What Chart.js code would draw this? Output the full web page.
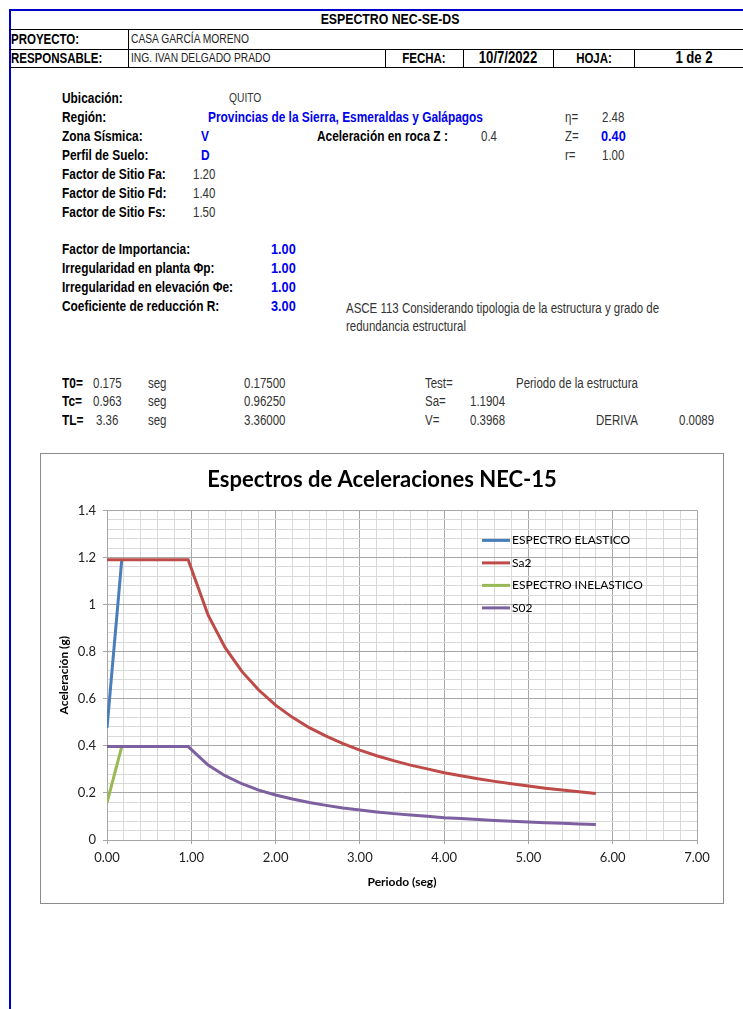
<!DOCTYPE html>
<html>
<head>
<meta charset="utf-8">
<script src="https://cdn.jsdelivr.net/npm/chart.js@4.4.1/dist/chart.umd.min.js"></script>
<style>
  html, body { margin: 0; padding: 0; background: #fff; }
  #page { position: relative; width: 743px; height: 1009px; overflow: hidden; }
  .ln { position: absolute; background: #000; }
  .blue { background: #0000cc; }
  /* Arial Narrow look: Liberation Sans squeezed horizontally */
  .t { position: absolute; white-space: nowrap; line-height: 16px; height: 16px;
       font-family: "Liberation Sans", Arial, sans-serif; font-size: 14px; color: #333;
       transform: scaleX(0.82); transform-origin: 0 50%; }
  .b { font-weight: bold; font-size: 14.5px; color: #000; }
  .h { font-size: 14px; }
  .v { color: #0000ee; font-weight: bold; font-size: 14.5px; }
  .big { font-size: 15.5px; }
  .c { transform: translateX(-50%) scaleX(0.82); transform-origin: 50% 50%; }
  #chartBox { position: absolute; left: 40px; top: 453px; width: 684px; height: 451px;
              border: 1px solid #8c8c8c; box-sizing: border-box; background: #fff; }
  #chartBox canvas { position: absolute; left: 0; top: 0; }
</style>
</head>
<body>
<div id="page">
  <!-- header grid -->
  <div class="ln blue" style="left:9px;top:9px;width:734px;height:2px"></div>
  <div class="ln blue" style="left:9px;top:9px;width:2px;height:1000px"></div>
  <div class="ln" style="left:9px;top:29px;width:734px;height:1px"></div>
  <div class="ln" style="left:9px;top:49px;width:734px;height:1px"></div>
  <div class="ln" style="left:9px;top:67px;width:734px;height:1px"></div>
  <div class="ln" style="left:128px;top:29px;width:1px;height:38px"></div>
  <div class="ln" style="left:385px;top:49px;width:1px;height:18px"></div>
  <div class="ln" style="left:463px;top:49px;width:1px;height:18px"></div>
  <div class="ln" style="left:553px;top:49px;width:1px;height:18px"></div>
  <div class="ln" style="left:634px;top:49px;width:1px;height:18px"></div>

  <div class="t b c" style="left:390px;top:11px;font-size:15px">ESPECTRO NEC-SE-DS</div>
  <div class="t b h" style="left:11px;top:31px">PROYECTO:</div>
  <div class="t" style="left:131px;top:31px;color:#222;font-size:12.5px">CASA GARCÍA MORENO</div>
  <div class="t b h" style="left:11px;top:50px">RESPONSABLE:</div>
  <div class="t" style="left:131px;top:50px;color:#222;font-size:12.5px">ING. IVAN DELGADO PRADO</div>
  <div class="t b h c" style="left:424px;top:50px">FECHA:</div>
  <div class="t b c" style="left:508px;top:50px;font-size:16px">10/7/2022</div>
  <div class="t b h c" style="left:594px;top:50px">HOJA:</div>
  <div class="t b c" style="left:694px;top:50px;font-size:16px">1 de 2</div>

  <!-- site data -->
  <div class="t b" style="left:62px;top:90px">Ubicación:</div>
  <div class="t" style="left:229px;top:90px;font-size:12.5px">QUITO</div>
  <div class="t b" style="left:62px;top:109px">Región:</div>
  <div class="t v" style="left:208px;top:109px">Provincias de la Sierra, Esmeraldas y Galápagos</div>
  <div class="t" style="left:565px;top:109px">η=</div>
  <div class="t" style="left:602px;top:109px">2.48</div>
  <div class="t b" style="left:62px;top:128px">Zona Sísmica:</div>
  <div class="t v" style="left:201px;top:128px">V</div>
  <div class="t b" style="left:317px;top:128px">Aceleración en roca Z :</div>
  <div class="t" style="left:481px;top:128px">0.4</div>
  <div class="t" style="left:565px;top:128px">Z=</div>
  <div class="t v big" style="left:601px;top:128px">0.40</div>
  <div class="t b" style="left:62px;top:147px">Perfil de Suelo:</div>
  <div class="t v" style="left:201px;top:147px">D</div>
  <div class="t" style="left:565px;top:147px">r=</div>
  <div class="t" style="left:602px;top:147px">1.00</div>
  <div class="t b" style="left:62px;top:166px">Factor de Sitio Fa:</div>
  <div class="t" style="left:193px;top:166px">1.20</div>
  <div class="t b" style="left:62px;top:185px">Factor de Sitio Fd:</div>
  <div class="t" style="left:193px;top:185px">1.40</div>
  <div class="t b" style="left:62px;top:204px">Factor de Sitio Fs:</div>
  <div class="t" style="left:193px;top:204px">1.50</div>

  <div class="t b" style="left:62px;top:241px">Factor de Importancia:</div>
  <div class="t v big" style="left:271px;top:241px">1.00</div>
  <div class="t b" style="left:62px;top:260px">Irregularidad en planta Φp:</div>
  <div class="t v big" style="left:271px;top:260px">1.00</div>
  <div class="t b" style="left:62px;top:279px">Irregularidad en elevación Φe:</div>
  <div class="t v big" style="left:271px;top:279px">1.00</div>
  <div class="t b" style="left:62px;top:298px">Coeficiente de reducción R:</div>
  <div class="t v big" style="left:271px;top:298px">3.00</div>
  <div class="t" style="left:346px;top:300px">ASCE 113 Considerando tipologia de la estructura y grado de</div>
  <div class="t" style="left:346px;top:318px">redundancia estructural</div>

  <!-- periods -->
  <div class="t b" style="left:62px;top:375px">T0=</div>
  <div class="t" style="left:93px;top:375px">0.175</div>
  <div class="t" style="left:148px;top:375px">seg</div>
  <div class="t" style="left:244px;top:375px">0.17500</div>
  <div class="t" style="left:425px;top:375px">Test=</div>
  <div class="t" style="left:516px;top:375px">Periodo de la estructura</div>
  <div class="t b" style="left:62px;top:393px">Tc=</div>
  <div class="t" style="left:93px;top:393px">0.963</div>
  <div class="t" style="left:148px;top:393px">seg</div>
  <div class="t" style="left:244px;top:393px">0.96250</div>
  <div class="t" style="left:425px;top:393px">Sa=</div>
  <div class="t" style="left:470px;top:393px">1.1904</div>
  <div class="t b" style="left:62px;top:412px">TL=</div>
  <div class="t" style="left:96px;top:412px">3.36</div>
  <div class="t" style="left:148px;top:412px">seg</div>
  <div class="t" style="left:244px;top:412px">3.36000</div>
  <div class="t" style="left:425px;top:412px">V=</div>
  <div class="t" style="left:470px;top:412px">0.3968</div>
  <div class="t" style="left:596px;top:412px">DERIVA</div>
  <div class="t" style="left:679px;top:412px">0.0089</div>

  <div id="chartBox"><canvas id="espectro" width="682" height="449"></canvas></div>
</div>

<script>
// Periodo (seg) and aceleración (g)
const elasticT = [0, 0.175];
const elasticSa = [0.476, 1.190];

const sa2T = [0, 0.9625, 1.2, 1.4, 1.6, 1.8, 2.0, 2.2, 2.4, 2.6, 2.8, 3.0, 3.2, 3.4, 3.6, 3.8,
              4.0, 4.2, 4.4, 4.6, 4.8, 5.0, 5.2, 5.4, 5.6, 5.8];
const sa2 = [1.190, 1.190, 0.955, 0.818, 0.716, 0.637, 0.573, 0.521, 0.477, 0.441, 0.409, 0.382,
             0.358, 0.337, 0.318, 0.302, 0.286, 0.273, 0.260, 0.249, 0.239, 0.229, 0.220, 0.212,
             0.205, 0.198];

const inelasticT = [0, 0.175];
const inelasticSa = [0.159, 0.397];

const s02T = sa2T;
const s02 = [0.397, 0.397, 0.318, 0.273, 0.239, 0.212, 0.191, 0.174, 0.159, 0.147, 0.136, 0.127,
             0.119, 0.112, 0.106, 0.101, 0.095, 0.091, 0.087, 0.083, 0.080, 0.076, 0.073, 0.071,
             0.068, 0.066];

const seriesNames = ['ESPECTRO ELASTICO', 'Sa2', 'ESPECTRO INELASTICO', 'S02'];
const seriesColors = ['#4a7ebb', '#be4b48', '#98b954', '#7d60a0'];

const xTicksMajor = [0, 1, 2, 3, 4, 5, 6, 7];
const yTicksMajor = [0, 0.2, 0.4, 0.6, 0.8, 1, 1.2, 1.4];

const FONT = 'Lato, "Open Sans", sans-serif';

function pts(xs, ys) {
  return xs.map((x, i) => ({ x: x, y: ys[i] }));
}

function isMajor(v, list) {
  return list.some(m => Math.abs(v - m) < 1e-6);
}

const gridMinor = '#d9d9d9';
const gridMajor = '#a6a6a6';

// legend drawn inside the plot, like the spreadsheet one
const insideLegend = {
  id: 'insideLegend',
  afterDatasetsDraw(chart) {
    const c = chart.ctx;
    const a = chart.chartArea;
    const x0 = a.left + 375;
    let y = a.top + 30;
    c.save();
    c.font = '12px ' + FONT;
    c.textBaseline = 'middle';
    c.fillStyle = '#000';
    chart.data.datasets.forEach(ds => {
      c.strokeStyle = ds.borderColor;
      c.lineWidth = 3;
      c.beginPath();
      c.moveTo(x0, y);
      c.lineTo(x0 + 28, y);
      c.stroke();
      c.fillText(ds.label, x0 + 30, y);
      y += 22.5;
    });
    c.restore();
  }
};

const datasets = [
  pts(elasticT, elasticSa),
  pts(sa2T, sa2),
  pts(inelasticT, inelasticSa),
  pts(s02T, s02)
].map((d, i) => ({
  label: seriesNames[i],
  data: d,
  borderColor: seriesColors[i],
  backgroundColor: seriesColors[i],
  borderWidth: 3,
  pointRadius: 0,
  tension: 0,
  fill: false,
  order: 4 - i
}));

new Chart(document.getElementById('espectro'), {
  type: 'line',
  data: { datasets: datasets },
  plugins: [insideLegend],
  options: {
    responsive: false,
    animation: false,
    layout: { padding: 0 },
    plugins: {
      legend: { display: false },
      tooltip: { enabled: false },
      title: {
        display: true,
        text: 'Espectros de Aceleraciones NEC-15',
        color: '#000',
        font: { family: FONT, size: 22, weight: 'bold' },
        padding: { top: 13, bottom: 17 }
      }
    },
    scales: {
      x: {
        type: 'linear',
        min: 0,
        max: 7,
        afterFit(scale) { scale.height = 63; },
        ticks: {
          stepSize: 0.2,
          autoSkip: false,
          maxRotation: 0,
          padding: 6,
          color: '#222',
          font: { family: FONT, size: 13 },
          callback: v => isMajor(v, xTicksMajor) ? v.toFixed(2) : ''
        },
        grid: {
          color: ctx => isMajor(ctx.tick.value, xTicksMajor) ? gridMajor : gridMinor,
          tickColor: ctx => isMajor(ctx.tick.value, xTicksMajor) ? gridMajor : 'rgba(0,0,0,0)',
          tickLength: 4
        },
        border: { color: gridMajor },
        title: {
          display: true,
          text: 'Periodo (seg)',
          color: '#000',
          font: { family: FONT, size: 12, weight: 'bold' },
          padding: { top: 0, bottom: 14 }
        }
      },
      y: {
        min: 0,
        max: 1.4,
        afterFit(scale) { scale.width = 66; },
        ticks: {
          stepSize: 0.04,
          maxTicksLimit: 100,
          autoSkip: false,
          padding: 7,
          color: '#222',
          font: { family: FONT, size: 13 },
          callback: v => isMajor(v, yTicksMajor) ? String(Number(v.toFixed(1))) : ''
        },
        grid: {
          color: ctx => isMajor(ctx.tick.value, yTicksMajor) ? gridMajor : gridMinor,
          tickColor: ctx => isMajor(ctx.tick.value, yTicksMajor) ? gridMajor : 'rgba(0,0,0,0)',
          tickLength: 4
        },
        border: { color: gridMajor },
        title: {
          display: true,
          text: 'Aceleración (g)',
          color: '#000',
          font: { family: FONT, size: 12, weight: 'bold' },
          padding: { top: 16, bottom: 0 }
        }
      },
      // empty right-hand strip so the plot ends where the spreadsheet's does
      yRight: {
        position: 'right',
        afterFit(scale) { scale.width = 26; },
        grid: { display: false },
        border: { display: false },
        ticks: { display: false }
      }
    }
  }
});
</script>
</body>
</html>
